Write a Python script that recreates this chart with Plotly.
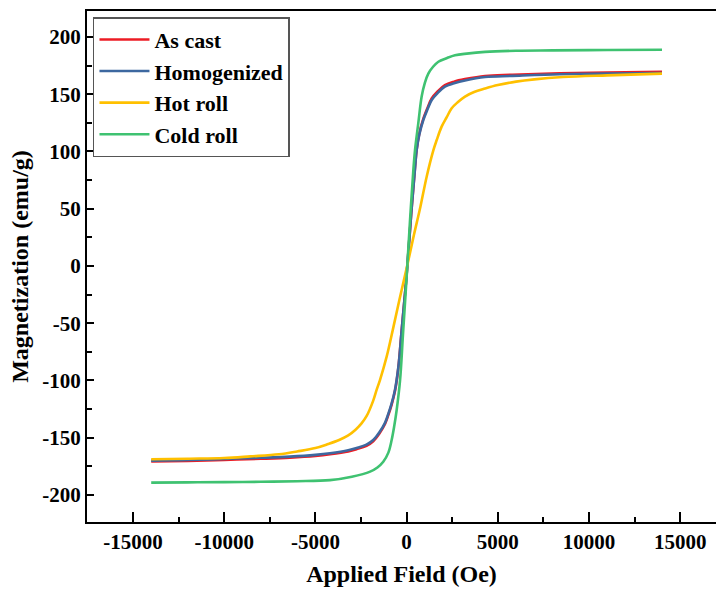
import plotly.graph_objects as go

# Magnetization curves (applied field in Oe, magnetization in emu/g)
field_homog = [-14000, -12000, -10000, -8000, -6400, -5000, -4200, -3200, -2740, -2200,
               -1830, -1500, -1185, -1000, -820, -635, -450, -270, 0, 250,
               460, 550, 700, 915, 1150, 1375, 1700, 2100, 2600, 3200,
               4300, 5800, 8400, 11000, 14000]
mag_as_cast = [-170.8, -170.3, -169.4, -168.4, -167.4, -165.9, -164.5, -162, -160, -157,
               -153, -146.5, -138, -130, -121, -109, -88.5, -56, -8, 45,
               86, 101.5, 116, 128.5, 138.2, 146.3, 152.4, 158, 161, 163.2,
               166, 167, 168.3, 169, 169.6]
mag_homog = [-170, -169.5, -168.5, -167.5, -166.5, -165, -163.6, -161, -159, -156,
             -152, -145.5, -137, -129, -120, -108, -88, -56, -8, 45,
             85, 101, 115, 127.5, 137, 145, 151, 156.6, 159.5, 162,
             165, 166, 167.5, 168, 168.6]

field_hot = [-14000, -12000, -10000, -8570, -7000, -6000, -5000, -4300, -3700, -3200,
             -2800, -2470, -2190, -1840, -1640, -1460, -1090, -760, -400, 0,
             400, 760, 1100, 1465, 1650, 1920, 2200, 2470, 2800, 3200,
             3700, 4300, 5000, 6000, 7000, 8570, 11000, 14000]
mag_hot = [-168.8, -168.3, -167.7, -166.3, -164.5, -162, -159, -155.5, -152, -148,
           -143, -137.5, -131, -118, -108, -99.6, -79, -56, -30, -2,
           27, 52, 78, 101, 110, 121.7, 130, 137.7, 143, 148,
           152, 155, 158, 161, 163, 165, 166.5, 168]

field_cold = [-14000, -12000, -10000, -8000, -6000, -4200, -3000, -2000, -1600, -1280,
              -1000, -820, -680, -545, -360, -200, 0, 180, 370, 460,
              640, 825, 1000, 1190, 1450, 1740, 2200, 2650, 3300, 4300,
              6000, 8000, 11000, 14000]
mag_cold = [-189.2, -189, -188.8, -188.5, -188, -187, -184, -179.6, -176, -171,
            -163, -152, -140, -125.8, -100, -60, -10, 38, 84, 101,
            124.6, 148, 160, 168, 174, 178.4, 181.5, 184, 185.5, 187,
            188, 188.3, 188.6, 188.8]

# Axis ticks
x_tick_vals = [-15000, -10000, -5000, 0, 5000, 10000, 15000]
x_tick_text = ["-15000", "-10000", "-5000", "0", "5000", "10000", "15000"]
y_tick_vals = [-200, -150, -100, -50, 0, 50, 100, 150, 200]
y_tick_text = ["-200", "-150", "-100", "-50", "0", "50", "100", "150", "200"]

series = [
    ("As cast", field_homog, mag_as_cast, "#ec1c24"),
    ("Homogenized", field_homog, mag_homog, "#3d68a0"),
    ("Hot roll", field_hot, mag_hot, "#ffc000"),
    ("Cold roll", field_cold, mag_cold, "#3fc271"),
]

FONT = "Liberation Serif, Times New Roman, serif"

fig = go.Figure()
for name, xs, ys, color in series:
    fig.add_trace(go.Scatter(
        x=xs, y=ys, name=name, mode="lines",
        line=dict(color=color, width=2.6, shape="spline", smoothing=1.0),
    ))

fig.update_layout(
    width=716, height=590,
    margin=dict(l=87, r=0, t=11, b=68),
    plot_bgcolor="white", paper_bgcolor="white",
    font=dict(family=FONT, size=21, color="black", weight="bold"),
    showlegend=True,
    legend=dict(
        x=0.0095, y=0.988, xanchor="left", yanchor="top",
        bgcolor="white", bordercolor="#555555", borderwidth=1.5,
        font=dict(family=FONT, size=22, color="black", weight="bold"),
        itemwidth=50, tracegroupgap=0,
    ),
)

fig.update_xaxes(
    range=[-17520, 16960],
    tickmode="array", tickvals=x_tick_vals, ticktext=x_tick_text,
    ticks="inside", ticklen=10, tickwidth=2, tickcolor="black",
    minor=dict(tick0=0, dtick=2500, ticks="inside", ticklen=5, tickwidth=2, tickcolor="black"),
    showline=True, linewidth=2, linecolor="black", mirror=True,
    showgrid=False, zeroline=False,
    tickfont=dict(family=FONT, size=21, color="black", weight="bold"),
    title=dict(text="Applied Field (Oe)", standoff=12,
               font=dict(family=FONT, size=24, color="black", weight="bold")),
)

fig.update_yaxes(
    range=[-223.6, 222.7],
    tickmode="array", tickvals=y_tick_vals, ticktext=y_tick_text,
    ticks="inside", ticklen=7, tickwidth=2, tickcolor="black",
    minor=dict(tick0=0, dtick=25, ticks="inside", ticklen=5, tickwidth=2, tickcolor="black"),
    showline=True, linewidth=2, linecolor="black", mirror=False,
    showgrid=False, zeroline=False,
    tickfont=dict(family=FONT, size=21, color="black", weight="bold"),
    title=dict(text="Magnetization (emu/g)", standoff=7,
               font=dict(family=FONT, size=24, color="black", weight="bold")),
)

fig.write_html("out.html")
